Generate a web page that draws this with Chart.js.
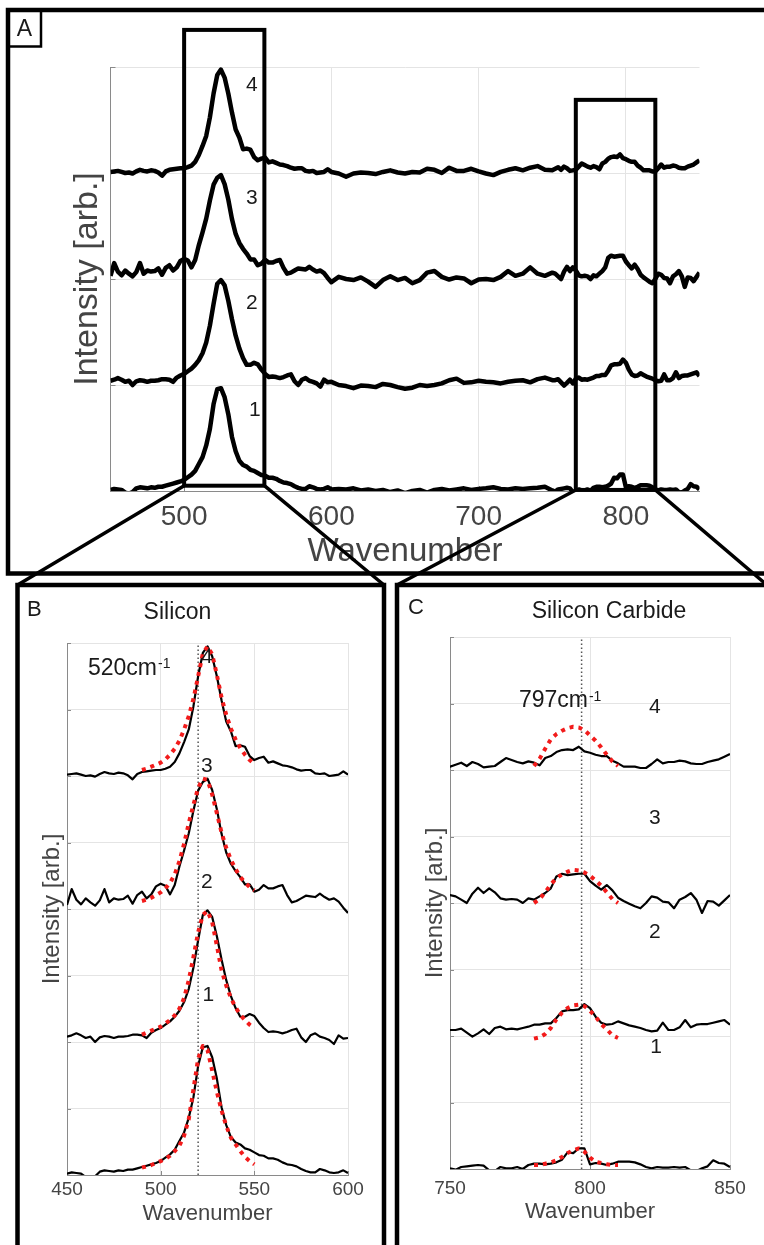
<!DOCTYPE html>
<html>
<head>
<meta charset="utf-8">
<title>Raman spectra: Si and SiC bands</title>
<script src="https://cdn.jsdelivr.net/npm/chart.js@4.4.1/dist/chart.umd.min.js"></script>
<style>
  html, body { margin: 0; padding: 0; background: #fff; }
  #page { position: relative; width: 764px; height: 1245px; overflow: hidden; }
  #page canvas { position: absolute; left: 0; top: 0; }
</style>
</head>
<body>
<div id="page">
  <canvas id="overview" width="764" height="1245"></canvas>
  <canvas id="silicon" width="764" height="1245"></canvas>
  <canvas id="carbide" width="764" height="1245"></canvas>
  <canvas id="frames" width="764" height="1245"></canvas>
</div>
<script>
// Raman shift grid (cm-1): fine over the Si band, coarse in between, fine over the SiC band
const wavenumbers = [
  450, 452.5, 455, 457.5, 460, 462.5, 465, 467.5, 470, 472.5,
  475, 477.5, 480, 482.5, 485, 487.5, 490, 492.5, 495, 497.5,
  500, 502.5, 505, 507.5, 510, 512.5, 515, 517.5, 520, 522.5,
  525, 527.5, 530, 532.5, 535, 537.5, 540, 542.5, 545, 547.5,
  550, 552.5, 555, 557.5, 560, 562.5, 565, 567.5, 570, 572.5,
  575, 577.5, 580, 582.5, 585, 587.5, 590, 592.5, 595, 597.5,
  600,
  605, 610, 615, 620, 625, 630, 635, 640, 645, 650,
  655, 660, 665, 670, 675, 680, 685, 690, 695, 700,
  705, 710, 715, 720, 725, 730, 735, 740, 745,
  750, 752, 754, 756, 758, 760, 762, 764, 766, 768,
  770, 772, 774, 776, 778, 780, 782, 784, 786, 788,
  790, 792, 794, 796, 798, 800, 802, 804, 806, 808,
  810, 812, 814, 816, 818, 820, 822, 824, 826, 828,
  830, 832, 834, 836, 838, 840, 842, 844, 846, 848,
  850
];

// stacked, normalised intensities (each spectrum offset by 2)
const spectrum1 = [
  0.02, 0.04, 0.03, 0.02, -0.03, -0.05, -0.02, 0.05, 0.07, 0.06,
  0.05, 0.07, 0.06, 0.08, 0.08, 0.10, 0.12, 0.14, 0.16, 0.18,
  0.21, 0.26, 0.31, 0.38, 0.51, 0.64, 0.86, 1.17, 1.64, 1.92,
  1.94, 1.77, 1.45, 1.02, 0.75, 0.57, 0.49, 0.46, 0.40, 0.38,
  0.34, 0.30, 0.29, 0.25, 0.25, 0.23, 0.19, 0.16, 0.15, 0.13,
  0.09, 0.06, 0.04, 0.04, 0.09, 0.07, 0.04, 0.03, 0.04, 0.07,
  0.03,
  0.04, 0.03, 0.05, 0.01, 0.03, 0.00, 0.02, -0.02, 0.01, -0.04,
  0.00, 0.02, -0.03, 0.02, 0.04, 0.01, 0.03, 0.05, 0.02, 0.04,
  0.05, 0.07, 0.04, 0.03, 0.05, 0.04, 0.05, 0.06, 0.08,
  0.01, -0.01, 0.03, 0.04, 0.05, 0.06, 0.05, -0.02, -0.03, 0.03,
  0.01, 0.01, 0.03, 0.00, 0.06, 0.08, 0.08, 0.07, 0.08, 0.10,
  0.14, 0.25, 0.24, 0.31, 0.31, 0.07, 0.09, 0.08, 0.06, 0.08,
  0.11, 0.11, 0.11, 0.10, 0.07, 0.03, 0.01, 0.03, 0.02, 0.02,
  0.03, 0.02, 0.03, -0.02, -0.03, 0.01, 0.04, 0.13, 0.09, 0.08,
  0.03
];
const spectrum2 = [
  2.08, 2.10, 2.13, 2.10, 2.06, 2.08, 2.00, 2.07, 2.09, 2.08,
  2.06, 2.08, 2.08, 2.09, 2.11, 2.11, 2.10, 2.06, 2.14, 2.18,
  2.21, 2.26, 2.31, 2.38, 2.47, 2.60, 2.80, 3.12, 3.53, 3.91,
  3.98, 3.88, 3.59, 3.24, 2.93, 2.69, 2.51, 2.38, 2.38, 2.42,
  2.39, 2.29, 2.21, 2.15, 2.16, 2.15, 2.13, 2.15, 2.18, 2.20,
  2.07, 2.00, 2.10, 2.13, 2.08, 2.06, 2.03, 1.97, 2.10, 2.05,
  2.06,
  2.00, 1.98, 1.94, 1.99, 1.98, 1.96, 2.02, 2.00, 1.96, 1.93,
  1.95, 2.00, 1.98, 2.00, 2.03, 2.09, 2.12, 2.04, 2.05, 2.08,
  2.06, 2.05, 2.03, 2.06, 2.08, 2.09, 2.05, 2.11, 2.14,
  2.09, 2.09, 2.11, 2.05, 1.99, 2.04, 2.10, 2.03, 2.12, 2.14,
  2.10, 2.11, 2.10, 2.12, 2.14, 2.17, 2.17, 2.19, 2.19, 2.27,
  2.37, 2.39, 2.39, 2.40, 2.48, 2.42, 2.29, 2.20, 2.17, 2.18,
  2.22, 2.19, 2.16, 2.14, 2.12, 2.09, 2.07, 2.08, 2.20, 2.09,
  2.09, 2.13, 2.24, 2.13, 2.17, 2.18, 2.18, 2.20, 2.22, 2.24,
  2.17
];
const spectrum3 = [
  4.06, 4.30, 4.14, 4.07, 4.16, 4.10, 4.05, 4.13, 4.30, 4.10,
  4.16, 4.14, 4.15, 4.20, 4.08, 4.21, 4.26, 4.16, 4.22, 4.34,
  4.38, 4.35, 4.22, 4.36, 4.64, 4.88, 5.14, 5.48, 5.78, 5.91,
  5.96, 5.79, 5.50, 5.13, 4.85, 4.68, 4.57, 4.48, 4.37, 4.37,
  4.26, 4.29, 4.36, 4.31, 4.31, 4.34, 4.36, 4.21, 4.10, 4.12,
  4.16, 4.20, 4.19, 4.18, 4.23, 4.18, 4.14, 4.16, 4.11, 4.02,
  3.94,
  4.04, 4.00, 3.98, 4.03, 3.95, 3.85, 3.98, 4.05, 3.98, 4.02,
  3.92, 3.98, 4.12, 4.15, 4.04, 3.99, 4.03, 4.01, 3.92, 3.99,
  4.00, 3.98, 4.04, 4.15, 4.06, 4.10, 4.22, 4.10, 4.06,
  4.12, 4.10, 4.05, 4.00, 4.14, 4.23, 4.15, 4.22, 4.16, 4.07,
  4.05, 4.06, 4.05, 4.00, 4.07, 4.05, 4.10, 4.15, 4.22, 4.40,
  4.44, 4.42, 4.43, 4.44, 4.44, 4.33, 4.26, 4.20, 4.27, 4.19,
  4.08, 4.03, 3.99, 3.95, 3.92, 4.00, 4.10, 4.08, 4.02, 4.01,
  3.92, 4.05, 4.09, 4.15, 4.05, 3.85, 4.03, 4.02, 3.96, 4.04,
  4.12
];
const spectrum4 = [
  6.02, 6.03, 6.04, 6.02, 6.00, 6.01, 5.99, 6.03, 6.06, 6.04,
  6.03, 6.05, 6.04, 6.01, 5.95, 6.03, 6.06, 6.07, 6.08, 6.09,
  6.09, 6.11, 6.14, 6.21, 6.34, 6.51, 6.70, 7.05, 7.50, 7.85,
  7.95, 7.80, 7.50, 7.14, 6.82, 6.67, 6.45, 6.46, 6.44, 6.30,
  6.24, 6.27, 6.29, 6.20, 6.22, 6.19, 6.16, 6.15, 6.13, 6.10,
  6.08, 6.09, 6.09, 6.04, 6.03, 6.04, 6.00, 6.01, 6.02, 6.07,
  6.02,
  5.99, 5.93, 5.99, 6.01, 6.00, 5.98, 6.02, 6.05, 6.01, 5.99,
  6.02, 6.01, 6.08, 6.06, 6.00, 6.10, 6.04, 6.04, 6.08, 6.03,
  5.99, 5.96, 6.02, 6.06, 6.09, 6.05, 6.10, 6.13, 6.06,
  6.05, 6.08, 6.11, 6.06, 6.12, 6.09, 6.04, 6.05, 6.06, 6.12,
  6.18, 6.15, 6.12, 6.10, 6.13, 6.11, 6.07, 6.18, 6.21, 6.27,
  6.30, 6.31, 6.30, 6.35, 6.28, 6.26, 6.23, 6.21, 6.21, 6.14,
  6.10, 6.05, 6.05, 6.05, 6.03, 6.03, 6.09, 6.16, 6.10, 6.12,
  6.12, 6.14, 6.13, 6.10, 6.09, 6.09, 6.12, 6.14, 6.16, 6.20,
  6.24
];
const spectra = [spectrum1, spectrum2, spectrum3, spectrum4];
const spectrumNames = ['1', '2', '3', '4'];

// Lorentzian fits of the Si band
const siliconFitShift = [
  490, 492.5, 495, 497.5, 500, 502.5, 505, 507.5, 510, 512.5,
  515, 517.5, 520, 522.5, 525, 527.5, 530, 532.5, 535, 537.5,
  540, 542.5, 545, 547.5, 550
];
const siliconFit1 = [0.11, 0.13, 0.15, 0.18, 0.21, 0.24, 0.29, 0.36, 0.44, 0.59,
  0.84, 1.29, 1.75, 1.94, 1.88, 1.57, 1.25, 0.97, 0.74, 0.56, 0.46, 0.36, 0.27, 0.21, 0.16];
const siliconFit2 = [2.11, 2.14, 2.17, 2.20, 2.23, 2.28, 2.33, 2.40, 2.50, 2.66,
  2.93, 3.28, 3.65, 3.91, 3.97, 3.80, 3.45, 3.08, 2.85, 2.66, 2.52, 2.41, 2.33, 2.26, 2.21];
const siliconFit3 = [4.12, 4.14, 4.17, 4.21, 4.25, 4.31, 4.39, 4.52, 4.72, 4.98,
  5.29, 5.57, 5.82, 5.96, 5.94, 5.72, 5.44, 5.15, 4.92, 4.74, 4.60, 4.48, 4.40, 4.33, 4.28];
const siliconFit4 = [6.09, 6.11, 6.14, 6.17, 6.20, 6.25, 6.32, 6.41, 6.53, 6.70,
  6.90, 7.16, 7.50, 7.84, 7.95, 7.83, 7.52, 7.18, 6.92, 6.71, 6.55, 6.42, 6.32, 6.24, 6.18];

// Lorentzian fits of the SiC band
const carbideFitShift = [780, 782, 784, 786, 788, 790, 792, 794, 796, 798, 800, 802, 804, 806, 808, 810];
const carbideFit1 = [0.06, 0.06, 0.08, 0.10, 0.13, 0.18, 0.24, 0.28, 0.31, 0.26, 0.17, 0.11, 0.09, 0.07, 0.06, 0.06];
const carbideFit2 = [1.96, 1.98, 2.03, 2.12, 2.25, 2.35, 2.42, 2.46, 2.47, 2.45, 2.38, 2.29, 2.18, 2.10, 2.01, 1.97];
const carbideFit3 = [4.00, 4.06, 4.16, 4.28, 4.37, 4.43, 4.47, 4.50, 4.49, 4.46, 4.41, 4.34, 4.26, 4.16, 4.06, 4.00];
const carbideFit4 = [6.06, 6.17, 6.32, 6.46, 6.54, 6.59, 6.63, 6.65, 6.64, 6.60, 6.52, 6.44, 6.34, 6.23, 6.13, 6.06];

const siliconPeak = 520;
const carbidePeak = 797;

const overviewTicks = [500, 600, 700, 800];
const siliconTicks = [450, 500, 550, 600];
const carbideTicks = [750, 800, 850];
const overviewIntensityTicks = [0, 2, 4, 6, 8];
const zoomIntensityTicks = [0, 1, 2, 3, 4, 5, 6, 7, 8];

[spectrum1, spectrum2, spectrum3, spectrum4].forEach((s, i) => {
  if (s.length !== wavenumbers.length) console.error('spectrum' + (i + 1) + ' has ' + s.length + ' values');
});

const FONT = "'Liberation Sans', Arial, Helvetica, sans-serif";
const INK = '#1a1a1a';
const LABEL_GREY = '#444444';
const AXIS_GREY = '#8a8a8a';
const GRID_GREY = '#e4e4e4';
const FIT_RED = '#f21b1b';

Chart.defaults.font.family = FONT;

const series = (xs, ys) => xs.map((x, i) => ({ x, y: ys[i] }));

// inward tick marks, spectrum numbers and the peak-position note
const panelMarks = {
  id: 'panelMarks',
  beforeDatasetsDraw(chart, args, opts) {
    const { ctx, chartArea: area, scales: { x, y } } = chart;
    ctx.save();
    ctx.strokeStyle = AXIS_GREY;
    ctx.lineWidth = 1;
    ctx.beginPath();
    y.ticks.forEach(t => {
      if (t.value === y.min) return;
      const py = Math.round(y.getPixelForValue(t.value)) + 0.5;
      ctx.moveTo(area.left, py);
      ctx.lineTo(area.left + opts.tickLength, py);
    });
    x.ticks.forEach(t => {
      if (t.value === x.min) return;
      const px = Math.round(x.getPixelForValue(t.value)) + 0.5;
      ctx.moveTo(px, area.bottom);
      ctx.lineTo(px, area.bottom - opts.tickLength);
    });
    ctx.stroke();
    ctx.restore();
  },
  afterDatasetsDraw(chart, args, opts) {
    const { ctx, scales: { x, y } } = chart;
    ctx.save();
    ctx.fillStyle = INK;
    ctx.font = opts.numberSize + 'px ' + FONT;
    ctx.textAlign = 'center';
    ctx.textBaseline = 'middle';
    spectrumNames.forEach((name, i) => {
      const spot = opts.numbers[i];
      ctx.fillText(name, x.getPixelForValue(spot.x), y.getPixelForValue(spot.y));
    });
    if (opts.peak) {
      const size = 23;
      const px = x.getPixelForValue(opts.peak.x);
      const base = y.getPixelForValue(opts.peak.y) + 0.36 * size;
      const main = opts.peak.value + 'cm';
      ctx.textAlign = 'left';
      ctx.textBaseline = 'alphabetic';
      ctx.font = size + 'px ' + FONT;
      ctx.fillText(main, px, base);
      const w = ctx.measureText(main).width;
      ctx.font = '14px ' + FONT;
      ctx.fillText('-1', px + w + 1, base - 6.5);
    }
    ctx.restore();
  }
};

function spectrumChart(canvasId, p) {
  const datasets = [];
  if (p.marker != null) {
    datasets.push({
      data: [{ x: p.marker, y: 0 }, { x: p.marker, y: 8 }],
      borderColor: '#555555', borderWidth: 1.5, borderDash: [1.5, 2.5], order: 3
    });
  }
  spectra.forEach(s => datasets.push({
    data: series(wavenumbers, s), borderColor: '#000000', borderWidth: p.lineWidth, order: 2
  }));
  (p.fits || []).forEach(f => datasets.push({
    data: series(p.fitShift, f), borderColor: FIT_RED, borderWidth: 4,
    borderDash: [4, 5], borderCapStyle: 'butt', order: 1
  }));

  const xMin = p.xRange[0];
  return new Chart(document.getElementById(canvasId), {
    type: 'line',
    data: { datasets },
    options: {
      responsive: false,
      animation: false,
      events: [],
      layout: { padding: p.padding },
      elements: {
        point: { radius: 0 },
        line: { tension: 0, fill: false, borderJoinStyle: 'round' }
      },
      plugins: {
        legend: { display: false },
        tooltip: { enabled: false },
        panelMarks: p.marks
      },
      scales: {
        x: {
          type: 'linear',
          min: p.xRange[0],
          max: p.xRange[1],
          afterBuildTicks: s => { s.ticks = p.xTicks.map(v => ({ value: v })); },
          afterFit: s => { s.height = p.xHeight; },
          grid: {
            color: c => (c.tick && c.tick.value === xMin ? 'rgba(0,0,0,0)' : GRID_GREY),
            drawTicks: false
          },
          border: { color: AXIS_GREY, width: 1 },
          ticks: {
            autoSkip: false, maxRotation: 0, color: LABEL_GREY,
            padding: p.tickPad, font: { size: p.tickSize }
          },
          title: {
            display: true, text: 'Wavenumber', color: LABEL_GREY,
            font: { size: p.xTitleSize }, padding: { top: 0, bottom: p.xTitlePad }
          }
        },
        y: {
          type: 'linear',
          min: 0,
          max: 8,
          afterBuildTicks: s => { s.ticks = p.yTicks.map(v => ({ value: v })); },
          afterFit: s => { s.width = p.yWidth; },
          grid: {
            color: c => (c.tick && c.tick.value === 0 ? 'rgba(0,0,0,0)' : GRID_GREY),
            drawTicks: false
          },
          border: { color: AXIS_GREY, width: 1 },
          ticks: { display: false },
          title: {
            display: true, text: 'Intensity [arb.]', color: LABEL_GREY,
            font: { size: p.yTitleSize }, padding: { top: p.yTitlePad, bottom: 0 }
          }
        }
      }
    },
    plugins: [panelMarks]
  });
}

// A: full range overview
const overview = spectrumChart('overview', {
  xRange: [450, 850], xTicks: overviewTicks, yTicks: overviewIntensityTicks,
  padding: { left: 40, top: 67, right: 64.5, bottom: 665 },
  yWidth: 70.5, xHeight: 89,
  tickSize: 28, tickPad: 9, xTitleSize: 33, xTitlePad: 8.7, yTitleSize: 34, yTitlePad: 27.6,
  lineWidth: 4.5,
  marks: {
    tickLength: 5, numberSize: 21,
    numbers: [{ x: 548, y: 1.53 }, { x: 546, y: 3.54 }, { x: 546, y: 5.53 }, { x: 546, y: 7.65 }]
  }
});

// B: silicon band
spectrumChart('silicon', {
  xRange: [450, 600], xTicks: siliconTicks, yTicks: zoomIntensityTicks,
  padding: { left: 20, top: 643, right: 416, bottom: 0 },
  yWidth: 47, xHeight: 70,
  tickSize: 19, tickPad: 3.6, xTitleSize: 22, xTitlePad: 18.3, yTitleSize: 24, yTitlePad: 18.1,
  lineWidth: 2.2,
  marker: siliconPeak,
  fitShift: siliconFitShift, fits: [siliconFit1, siliconFit2, siliconFit3, siliconFit4],
  marks: {
    tickLength: 4, numberSize: 21,
    numbers: [{ x: 525.5, y: 2.71 }, { x: 524.7, y: 4.41 }, { x: 524.7, y: 6.15 }, { x: 524.7, y: 7.79 }],
    peak: { value: siliconPeak, x: 461.2, y: 7.65 }
  }
});

// C: silicon carbide band
spectrumChart('carbide', {
  xRange: [750, 850], xTicks: carbideTicks, yTicks: zoomIntensityTicks,
  padding: { left: 400, top: 637, right: 34, bottom: 0 },
  yWidth: 50, xHeight: 76,
  tickSize: 19, tickPad: 8.1, xTitleSize: 22, xTitlePad: 20.3, yTitleSize: 24, yTitlePad: 21.1,
  lineWidth: 2.2,
  marker: carbidePeak,
  fitShift: carbideFitShift, fits: [carbideFit1, carbideFit2, carbideFit3, carbideFit4],
  marks: {
    tickLength: 4, numberSize: 21,
    numbers: [{ x: 823.6, y: 1.83 }, { x: 823.2, y: 3.56 }, { x: 823.2, y: 5.27 }, { x: 823.2, y: 6.95 }],
    peak: { value: carbidePeak, x: 774.6, y: 7.07 }
  }
});

// panel outlines, zoom windows on the overview and the lines tying them to B and C
const panelFrames = {
  A: { left: 8, top: 10, right: 780, bottom: 573.5 },
  B: { left: 17.5, top: 585, right: 384, bottom: 1300 },
  C: { left: 397, top: 585, right: 767, bottom: 1300 }
};
const zoomWindows = [
  { from: 500, to: 554.5, low: 0.1, high: 8.7, panel: 'B' },
  { from: 766, to: 820, low: 0.02, high: 7.38, panel: 'C' }
];
const panelTitles = [
  { text: 'Silicon', x: 177.5, y: 613 },
  { text: 'Silicon Carbide', x: 609, y: 612 }
];
const panelLetters = [
  { text: 'B', x: 27, y: 609.5 },
  { text: 'C', x: 408, y: 607.5 }
];

function drawFrames(chart) {
  const ctx = document.getElementById('frames').getContext('2d');
  const sx = chart.scales.x;
  const sy = chart.scales.y;
  ctx.strokeStyle = '#000';
  ctx.lineCap = 'butt';
  ctx.lineJoin = 'miter';

  ctx.lineWidth = 4.5;
  Object.values(panelFrames).forEach(f => ctx.strokeRect(f.left, f.top, f.right - f.left, f.bottom - f.top));

  ctx.lineWidth = 2.5;
  ctx.strokeRect(8, 10, 33, 36.5);

  zoomWindows.forEach(w => {
    const l = sx.getPixelForValue(w.from);
    const r = sx.getPixelForValue(w.to);
    const t = sy.getPixelForValue(w.high);
    const b = sy.getPixelForValue(w.low);
    const target = panelFrames[w.panel];
    ctx.lineWidth = 4;
    ctx.strokeRect(l, t, r - l, b - t);
    ctx.lineWidth = 3.5;
    ctx.beginPath();
    ctx.moveTo(l, b);
    ctx.lineTo(target.left, target.top);
    ctx.moveTo(r, b);
    ctx.lineTo(target.right, target.top);
    ctx.stroke();
  });

  ctx.fillStyle = INK;
  ctx.textBaseline = 'middle';
  ctx.textAlign = 'center';
  ctx.font = '23px ' + FONT;
  ctx.fillText('A', 24.5, 29.5);
  panelTitles.forEach(t => ctx.fillText(t.text, t.x, t.y));
  ctx.textAlign = 'left';
  ctx.font = '22px ' + FONT;
  panelLetters.forEach(t => ctx.fillText(t.text, t.x, t.y));
}

drawFrames(overview);
</script>
</body>
</html>
